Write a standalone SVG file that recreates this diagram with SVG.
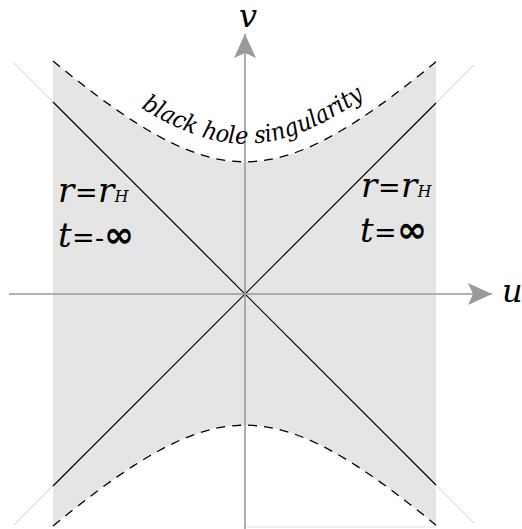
<svg xmlns="http://www.w3.org/2000/svg" width="522" height="529" viewBox="0 0 522 529">
<style>
.region{fill:#e5e5e5;stroke:none}
.faint{stroke:#cfcfcf;stroke-width:1;fill:none}
.horizon{stroke:#000;stroke-width:1.2;fill:none}
.sing{stroke:#000;stroke-width:1.3;fill:none;stroke-dasharray:9 7}
.axis{stroke:#9a9a9a;stroke-width:1.6;fill:none}
.lbl{fill:#000;font-family:'DejaVu Serif',serif;font-style:italic}
.eq{font-style:normal;font-size:27px}
.inf{font-family:'DejaVu Sans',sans-serif;font-style:normal;font-weight:bold;font-size:36px}
.sub{font-size:16px}
</style>
<defs>
<marker id="arrow" viewBox="0 0 24 22" refX="24" refY="11" markerWidth="24" markerHeight="22" markerUnits="userSpaceOnUse" orient="auto">
<path d="M0,0 L24,11 L0,22 L5,11 Z" fill="#9a9a9a"/>
</marker>
<path id="singPath" d="M53,43 L69,56 L85,68.6 L101,80.7 L117,92.1 L133,102.9 L149,112.8 L165,121.6 L181,129.3 L197,135.5 L213,140.2 L229,143 L245,144 L261,143 L277,140.2 L293,135.5 L309,129.3 L325,121.6 L341,112.8 L357,102.9 L373,92.1 L389,80.7 L405,68.6 L421,56 L436,43.8"/>
</defs>
<g id="region">
<path class="region" d="M53,61 L69,74 L85,86.6 L101,98.7 L117,110.1 L133,120.9 L149,130.8 L165,139.6 L181,147.3 L197,153.5 L213,158.2 L229,161 L245,162 L261,161 L277,158.2 L293,153.5 L309,147.3 L325,139.6 L341,130.8 L357,120.9 L373,110.1 L389,98.7 L405,86.6 L421,74 L436,61.8 L436,525.2 L421,513 L405,500.4 L389,488.3 L373,476.9 L357,466.1 L341,456.2 L325,447.4 L309,439.7 L293,433.5 L277,428.8 L261,426 L245,425 L229,426 L213,428.8 L197,433.5 L181,439.7 L165,447.4 L149,456.2 L133,466.1 L117,476.9 L101,488.3 L85,500.4 L69,513 L53,526 Z"/>
<line x1="245" y1="527" x2="436" y2="527" stroke="#e3e3e3" stroke-width="1"/>
</g>
<g id="connectors">
<line class="faint" x1="14" y1="63" x2="474" y2="523"/>
<line class="faint" x1="14" y1="525" x2="474" y2="65"/>
<line class="horizon" x1="53" y1="102" x2="436" y2="485"/>
<line class="horizon" x1="53" y1="486" x2="436" y2="103"/>
<path id="singTop" class="sing" d="M53,61 L69,74 L85,86.6 L101,98.7 L117,110.1 L133,120.9 L149,130.8 L165,139.6 L181,147.3 L197,153.5 L213,158.2 L229,161 L245,162 L261,161 L277,158.2 L293,153.5 L309,147.3 L325,139.6 L341,130.8 L357,120.9 L373,110.1 L389,98.7 L405,86.6 L421,74 L436,61.8"/>
<path id="singBottom" class="sing" d="M53,526 L69,513 L85,500.4 L101,488.3 L117,476.9 L133,466.1 L149,456.2 L165,447.4 L181,439.7 L197,433.5 L213,428.8 L229,426 L245,425 L261,426 L277,428.8 L293,433.5 L309,439.7 L325,447.4 L341,456.2 L357,466.1 L373,476.9 L389,488.3 L405,500.4 L421,513 L436,525.2"/>
<line id="uAxis" class="axis" x1="9" y1="294" x2="492" y2="294" marker-end="url(#arrow)"/>
<line id="vAxis" class="axis" x1="245" y1="529" x2="245" y2="34" marker-end="url(#arrow)"/>
</g>
<g id="label-v"><text class="lbl" x="248" y="27" font-size="32" text-anchor="middle">v</text></g>
<g id="label-u"><text class="lbl" x="502" y="302" font-size="32">u</text></g>
<g id="label-singularity">
<text class="lbl" font-size="24"><textPath href="#singPath" startOffset="230" text-anchor="middle" textLength="242" lengthAdjust="spacingAndGlyphs">black hole singularity</textPath></text>
</g>
<g id="label-left">
<text class="lbl" y="202" font-size="34"><tspan x="58">r</tspan><tspan class="eq" x="75">=</tspan><tspan x="98">r</tspan><tspan class="sub" x="114.5">H</tspan></text>
<text class="lbl" y="247" font-size="34"><tspan x="58">t</tspan><tspan class="eq" x="72">=</tspan><tspan class="eq" x="95">-</tspan><tspan class="inf" x="104">∞</tspan></text>
</g>
<g id="label-right">
<text class="lbl" y="197" font-size="34"><tspan x="361">r</tspan><tspan class="eq" x="378">=</tspan><tspan x="401">r</tspan><tspan class="sub" x="417.5">H</tspan></text>
<text class="lbl" y="242" font-size="34"><tspan x="360">t</tspan><tspan class="eq" x="374">=</tspan><tspan class="inf" x="397">∞</tspan></text>
</g>
</svg>
